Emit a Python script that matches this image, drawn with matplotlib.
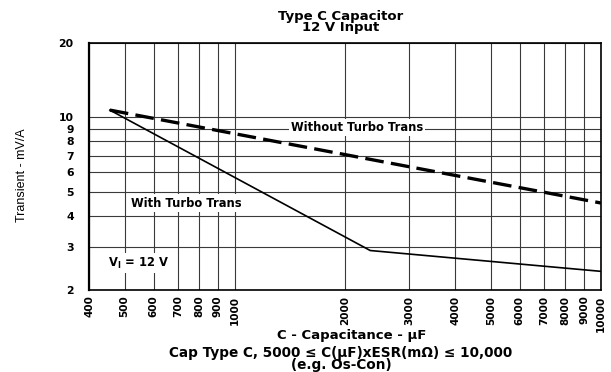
import matplotlib.pyplot as plt
from matplotlib.ticker import FixedLocator, NullLocator

# curves: capacitance (uF) vs transient (mV/A)
without_c = [456, 10000]
without_t = [10.7, 4.5]
with_c = [456, 2344, 10000]
with_t = [10.7, 2.89, 2.38]

x_ticks = [400, 500, 600, 700, 800, 900, 1000, 2000, 3000, 4000, 5000, 6000, 7000, 8000, 9000, 10000]
y_ticks = [2, 3, 4, 5, 6, 7, 8, 9, 10, 20]

bold = dict(family='DejaVu Sans', weight='bold')

fig = plt.figure(figsize=(6.11, 3.72), dpi=100)
ax = fig.add_axes([0.1457, 0.2204, 0.8379, 0.664])
ax.set_xscale('log')
ax.set_yscale('log')
ax.set_xlim(400, 10000)
ax.set_ylim(2, 20)

ax.xaxis.set_major_locator(FixedLocator(x_ticks))
ax.xaxis.set_minor_locator(NullLocator())
ax.yaxis.set_major_locator(FixedLocator(y_ticks))
ax.yaxis.set_minor_locator(NullLocator())
ax.set_xticklabels([str(v) for v in x_ticks], rotation=90, fontsize=7.5, **bold)
ax.set_yticklabels([str(v) for v in y_ticks], fontsize=7.8, **bold)
ax.tick_params(axis='x', length=0, pad=4)
ax.tick_params(axis='y', length=0, pad=11)
ax.grid(True, color='#3a3a3a', lw=0.8)
ax.set_axisbelow(True)
for s in ax.spines.values():
    s.set_linewidth(1.2)
ax.spines['left'].set_linewidth(1.6)

ax.plot(without_c, without_t, color='black', lw=2.4, dashes=(5.6, 2.2))
ax.plot(with_c, with_t, color='black', lw=1.2)

box = dict(facecolor='white', edgecolor='none', pad=1.5)
ax.text(2160, 9.1, 'Without Turbo Trans', fontsize=8.3, ha='center', va='center', bbox=box, **bold)
ax.text(736, 4.5, 'With Turbo Trans', fontsize=8.3, ha='center', va='center', bbox=box, **bold)
ax.text(545, 2.57, r'V$_\mathbf{I}$ = 12 V', fontsize=8.3, ha='center', va='center', bbox=box, **bold)

fig.text(0.558, 0.940, 'Type C Capacitor\n12 V Input', ha='center', va='center',
         fontsize=9.5, linespacing=0.8, **bold)
fig.text(0.036, 0.53, 'Transient - mV/A', family=['Liberation Sans Narrow', 'Liberation Sans'],
         fontsize=9, rotation=90, ha='center', va='center')
fig.text(0.576, 0.099, 'C - Capacitance - \u00b5F', ha='center', va='center', fontsize=9.5, **bold)
fig.text(0.558, 0.036, 'Cap Type C, 5000 \u2264 C(\u00b5F)xESR(m\u03a9) \u2264 10,000\n(e.g. Os-Con)',
         ha='center', va='center', fontsize=9.8, linespacing=0.8, **bold)

fig.savefig('out.png', dpi=100)
